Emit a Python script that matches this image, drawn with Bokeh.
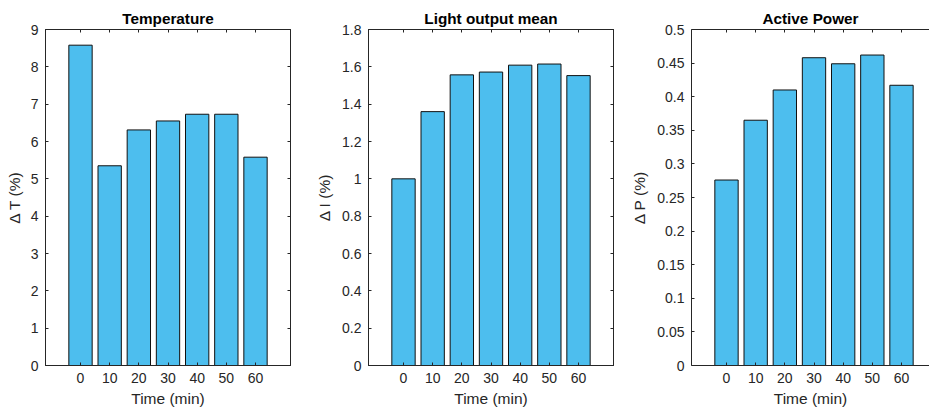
from bokeh.plotting import figure
from bokeh.layouts import row
from bokeh.models import FixedTicker, LinearAxis, Range1d, ColumnDataSource
from bokeh.embed import file_html
from bokeh.resources import INLINE

# ---- data ----
times = [0, 10, 20, 30, 40, 50, 60]
temperature = [8.58, 5.35, 6.31, 6.55, 6.73, 6.73, 5.58]
light = [1.00, 1.36, 1.557, 1.572, 1.609, 1.615, 1.553]
power = [0.276, 0.365, 0.410, 0.458, 0.449, 0.462, 0.417]

titles = ["Temperature", "Light output mean", "Active Power"]
ylabels = ["\u0394 T (%)", "\u0394 I (%)", "\u0394 P (%)"]
xlabel = "Time (min)"

t_ticks = [0, 1, 2, 3, 4, 5, 6, 7, 8, 9]
t_tick_labels = ["0", "1", "2", "3", "4", "5", "6", "7", "8", "9"]
l_ticks = [0, 0.2, 0.4, 0.6, 0.8, 1.0, 1.2, 1.4, 1.6, 1.8]
l_tick_labels = ["0", "0.2", "0.4", "0.6", "0.8", "1", "1.2", "1.4", "1.6", "1.8"]
p_ticks = [0, 0.05, 0.1, 0.15, 0.2, 0.25, 0.3, 0.35, 0.4, 0.45, 0.5]
p_tick_labels = ["0", "0.05", "0.1", "0.15", "0.2", "0.25", "0.3", "0.35", "0.4", "0.45", "0.5"]

FONT = "Liberation Sans"
AX = "#262626"
BAR = "#4DBEEE"
H = 412


def style_axis(ax, ticks, labels=True, overrides=None):
    ax.ticker = FixedTicker(ticks=ticks)
    ax.axis_line_color = AX
    ax.axis_line_width = 1
    ax.major_tick_line_color = AX
    ax.major_tick_in = 3
    ax.major_tick_out = 0
    ax.minor_tick_line_color = None
    if labels:
        ax.major_label_text_font = FONT
        ax.major_label_text_font_size = "14px"
        ax.major_label_text_color = AX
        if overrides:
            ax.major_label_overrides = overrides
    else:
        ax.major_label_text_font_size = "0px"
        ax.major_label_text_color = None
        ax.major_label_standoff = 0


def make(title, ylabel, values, yticks, ytlabels, ymax, width, left, right, xend, boxed, lab_standoff):
    p = figure(width=width, height=H, output_backend="svg", toolbar_location=None,
               x_range=Range1d(-12, xend), y_range=Range1d(0, ymax),
               x_axis_location=None, y_axis_location=None,
               min_border_left=left, min_border_right=right,
               min_border_top=29, min_border_bottom=H - 29 - 336)
    p.grid.visible = False
    p.background_fill_color = "white"
    p.border_fill_color = "white"
    p.outline_line_color = AX if boxed else None

    src = ColumnDataSource(dict(x=times, top=values))
    p.vbar(x="x", top="top", width=8, bottom=0, source=src,
           fill_color=BAR, line_color="#111111", line_width=1)

    overrides = {t: l for t, l in zip(yticks, ytlabels)}

    xb = LinearAxis()
    style_axis(xb, times)
    xb.major_label_standoff = 7
    xb.axis_label = xlabel
    xb.axis_label_text_font = FONT
    xb.axis_label_text_font_size = "15.5px"
    xb.axis_label_text_font_style = "normal"
    xb.axis_label_text_color = AX
    xb.axis_label_standoff = 4
    p.add_layout(xb, "below")

    yl = LinearAxis()
    style_axis(yl, yticks, overrides=overrides)
    yl.major_label_standoff = 7
    yl.axis_label = ylabel
    yl.axis_label_text_font = FONT
    yl.axis_label_text_font_size = "15.5px"
    yl.axis_label_text_font_style = "normal"
    yl.axis_label_text_color = AX
    yl.axis_label_standoff = lab_standoff
    p.add_layout(yl, "left")

    xt = LinearAxis()
    style_axis(xt, times, labels=False)
    p.add_layout(xt, "above")

    if boxed:
        yr = LinearAxis()
        style_axis(yr, yticks, labels=False)
        p.add_layout(yr, "right")

    p.title.text = title
    p.title.align = "center"
    p.title.text_font = FONT
    p.title.text_font_size = "15.3px"
    p.title.text_font_style = "bold"
    p.title.text_color = "black"
    p.title.standoff = 5
    return p


p1 = make(titles[0], ylabels[0], temperature, t_ticks, t_tick_labels, 9,
          300, 45, 10, 72, True, 5)
p2 = make(titles[1], ylabels[1], light, l_ticks, l_tick_labels, 1.8,
          323, 68, 10, 72, True, 6)
p3 = make(titles[2], ylabels[2], power, p_ticks, p_tick_labels, 0.5,
          306, 68, 0, 69.6, False, 6)

layout = row(p1, p2, p3)
open("out.html", "w").write(file_html(layout, INLINE))
